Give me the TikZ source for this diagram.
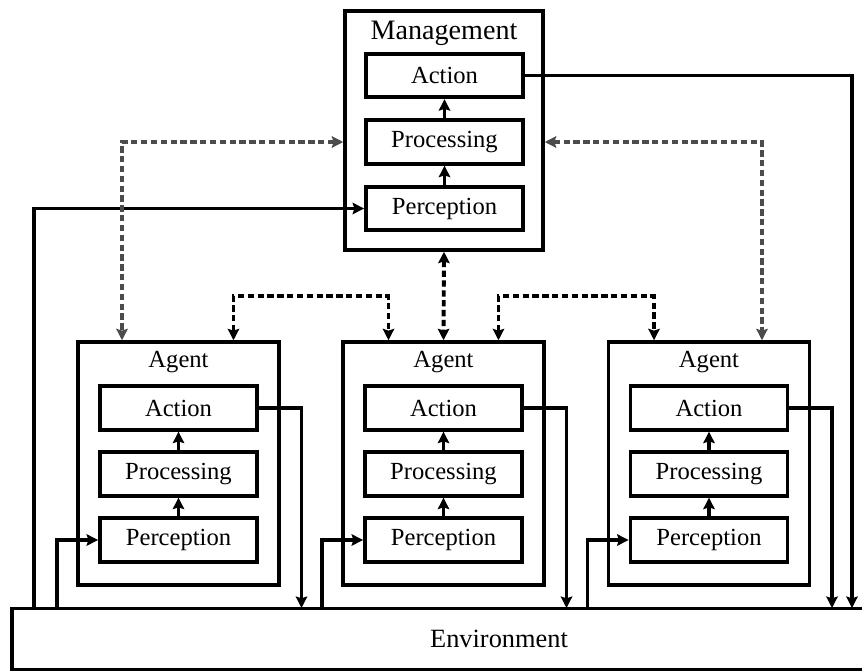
\documentclass[tikz,border=0pt]{standalone}
\usepackage{fontspec}
\setmainfont{Liberation Serif}
\usetikzlibrary{arrows.meta, positioning}

\begin{document}
\begin{tikzpicture}[
    x=0.02cm, y=-0.02cm,
    >={Stealth[length=6.5pt, width=6.5pt, inset=1pt]},
    unit/.style={rectangle, draw, line width=2.2pt, minimum width=3.14cm, minimum height=0.87cm, inner sep=0pt, font=\fontsize{14}{16}\selectfont},
    frame/.style={rectangle, draw, line width=2pt, minimum width=4.02cm, minimum height=4.86cm},
    title/.style={font=\fontsize{14}{16}\selectfont},
    flow/.style={->, line width=2pt},
    link/.style={<->, line width=2.2pt, dash pattern=on 3.6pt off 2pt},
    mlink/.style={link, color=black!70}
]
\useasboundingbox (0,0) rectangle (862,670);

% Environment
\node[rectangle, draw, line width=2pt, minimum width=19.48cm, minimum height=1.22cm, font=\fontsize{15}{17}\selectfont] (env) at (499,639) {Environment};

% Management
\node[frame, minimum width=3.96cm, minimum height=4.78cm] (mgmt) at (444,130.5) {};
\node[title, font=\fontsize{16}{18}\selectfont] (mtitle) at (444,33) {Management};
\node[unit] (mact) at (444.5,75.5) {Action};
\node[unit] (mpro) at (444.5,142) {Processing};
\node[unit] (mper) at (444.5,208.5) {Perception};

\draw[flow] (mper) -- (mpro);
\draw[flow] (mpro) -- (mact);

\coordinate (min) at (34,608);
\coordinate (mout) at (852,608);
\draw[flow] (min) |- (mper.west);
\draw[flow] (mact.east) -| (mout);

% Agents
\foreach \i/\cx in {1/178.5, 2/443.5, 3/709} {
  \node[frame] (ag\i) at (\cx,463.5) {};
  \node[title] (at\i) at (\cx,362) {Agent};
  \node[unit] (act\i) at (\cx,408) {Action};
  \node[unit] (pro\i) at (\cx,474) {Processing};
  \node[unit] (per\i) at (\cx,540) {Perception};
  \draw[flow] (per\i) -- (pro\i);
  \draw[flow] (pro\i) -- (act\i);
  \coordinate (in\i) at ({\cx-121.5},608);
  \coordinate (out\i) at ({\cx+123},608);
  \draw[flow] (in\i) |- (per\i.west);
  \draw[flow] (act\i.east) -| (out\i);
}

% Communication links
\draw[mlink] (mpro -| mgmt.west) -| ([xshift=-1.13cm]ag1.north);
\draw[mlink] (mpro -| mgmt.east) -| ([xshift=1.06cm]ag3.north);
\draw[link] (mgmt.south) -- (ag2.north);
\draw[link] ([xshift=1.1cm]ag1.north) -- ++(0,-44) -| ([xshift=-1.1cm]ag2.north);
\draw[link] ([xshift=1.1cm]ag2.north) -- ++(0,-44) -| ([xshift=-1.1cm]ag3.north);

\end{tikzpicture}
\end{document}
